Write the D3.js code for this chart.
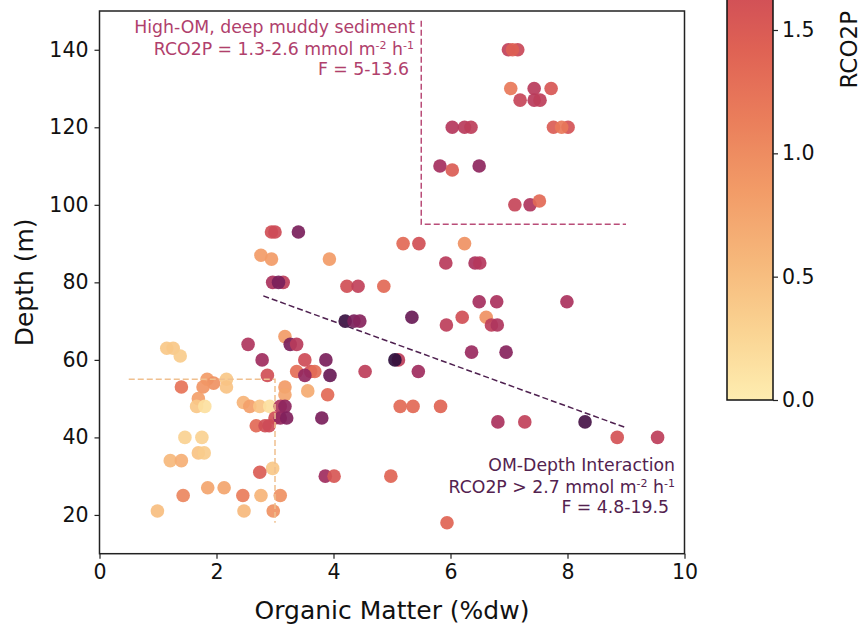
<!DOCTYPE html>
<html>
<head>
<meta charset="utf-8">
<script src="https://cdn.jsdelivr.net/npm/d3@7"></script>
<style>
  html, body { margin: 0; padding: 0; background: #ffffff; }
  svg { display: block; font-family: "DejaVu Sans", sans-serif; }
</style>
</head>
<body>
<svg id="chart" width="863" height="631"></svg>
<script>
// Sediment samples: organic matter (%dw), depth (m) and CO2 production rate
const organicMatter = [
  6.99, 7.15, 7.06,
  7.03, 7.43, 7.72,
  7.19, 7.43, 7.53,
  6.03, 6.24, 6.35, 7.76, 8.01, 7.90,
  5.82, 6.49, 6.03,
  7.10, 7.36, 7.52,
  2.94, 3.00, 3.40,
  2.76, 2.94, 3.93,
  5.19, 5.46, 6.24,
  5.92, 6.42, 6.50,
  2.96, 3.14, 3.06,
  4.23, 4.42, 4.86,
  6.49, 6.79, 7.99,
  5.34, 6.20, 6.61,
  4.20, 4.35, 4.45,
  5.93, 6.70, 6.80,
  3.17,
  2.54, 3.26, 3.37,
  1.15, 1.26, 1.38,
  6.36, 6.95,
  2.78, 3.51, 3.87, 5.11, 5.05,
  3.37, 3.61, 3.68, 4.54, 5.45,
  2.87, 3.51, 3.94,
  1.84, 2.17,
  1.95,
  1.40, 1.77, 2.17, 3.17,
  3.56,
  3.17, 3.90,
  1.69,
  2.46,
  1.66, 1.80, 2.57, 2.74, 2.91, 3.09, 3.17, 5.14, 5.36, 5.83,
  3.00, 3.09, 3.20, 3.80,
  6.81, 7.27, 8.30,
  2.68, 2.83, 2.90,
  1.46, 1.75, 8.85, 9.54,
  1.69, 1.79,
  1.21, 1.40,
  2.96,
  2.74,
  3.86, 4.01, 4.98,
  1.85, 2.13,
  1.43, 2.45, 2.76, 3.09,
  0.99, 2.47, 2.97,
  5.94
];
const depth = [
  140, 140, 140,
  130, 130, 130,
  127, 127, 127,
  120, 120, 120, 120, 120, 120,
  110, 110, 109,
  100, 100, 101,
  93, 93, 93,
  87, 86, 86,
  90, 90, 90,
  85, 85, 85,
  80, 80, 80,
  79, 79, 79,
  75, 75, 75,
  71, 71, 71,
  70, 70, 70,
  69, 69, 69,
  66,
  64, 64, 64,
  63, 63, 61,
  62, 62,
  60, 60, 60, 60, 60,
  57, 57, 57, 57, 57,
  56, 56, 56,
  55, 55,
  54,
  53, 53, 53, 53,
  52,
  51, 51,
  50,
  49,
  48, 48, 48, 48, 48, 48, 48, 48, 48, 48,
  45, 45, 45, 45,
  44, 44, 44,
  43, 43, 43,
  40, 40, 40, 40,
  36, 36,
  34, 34,
  32,
  31,
  30, 30, 30,
  27, 27,
  25, 25, 25, 25,
  21, 21, 21,
  18
];
const rco2p = [
  1.85, 1.75, 1.45,
  1.20, 1.95, 1.55,
  1.80, 1.95, 1.90,
  2.00, 1.95, 1.90, 1.50, 1.60, 1.20,
  2.15, 2.35, 1.50,
  1.80, 2.05, 1.35,
  1.65, 1.70, 2.50,
  0.85, 0.85, 0.85,
  1.35, 1.65, 0.95,
  1.95, 2.10, 2.00,
  2.10, 1.90, 2.50,
  1.65, 1.85, 1.35,
  2.15, 2.10, 2.10,
  2.60, 1.65, 0.95,
  2.80, 2.50, 2.40,
  1.90, 1.90, 2.05,
  0.85,
  2.05, 2.50, 1.95,
  0.40, 0.40, 0.35,
  2.25, 2.40,
  2.20, 1.70, 2.50, 1.90, 2.85,
  1.30, 1.60, 1.30, 1.90, 2.20,
  1.65, 2.30, 2.60,
  0.85, 0.40,
  0.95,
  1.25, 0.90, 0.45, 0.85,
  0.70,
  0.75, 1.35,
  0.80,
  0.60,
  0.40, 0.15, 0.80, 0.45, 0.15, 2.05, 2.35, 1.35, 1.35, 1.40,
  1.65, 2.30, 2.45, 2.50,
  2.10, 1.85, 2.75,
  1.35, 1.65, 1.70,
  0.30, 0.30, 1.60, 1.90,
  0.45, 0.35,
  0.55, 0.65,
  0.40,
  1.50,
  2.20, 1.55, 1.40,
  0.75, 0.75,
  1.05, 1.15, 0.60, 0.95,
  0.50, 0.55, 0.95,
  1.40
];

const xTicks = [0, 2, 4, 6, 8, 10];
const yTicks = [20, 40, 60, 80, 100, 120, 140];
const cbarTicks = [0.0, 0.5, 1.0, 1.5];

// Colour ramp (pale yellow -> orange -> red -> magenta -> dark purple)
const rampStops = [0, 0.1, 0.2, 0.3, 0.4, 0.5, 0.6, 0.7, 0.8, 0.9, 1.0];
const rampColors = ["#feedb0", "#fad392", "#f6b77a", "#f29b67", "#ea7e5b", "#df6254",
                    "#cd4b57", "#b6385c", "#98295f", "#731d5a", "#2f0f3d"];
const ramp = d3.scaleLinear().domain(rampStops).range(rampColors).interpolate(d3.interpolateRgb);
const colorMax = 2.84;
const color = v => ramp(Math.max(0, Math.min(1, v / colorMax)));

const svg = d3.select("#chart");
svg.append("rect").attr("width", 863).attr("height", 631).attr("fill", "#ffffff");

const plot = { left: 99.5, right: 684.5, top: 11, bottom: 553.7 };
const x = d3.scaleLinear().domain([0, 10]).range([plot.left, plot.right]);
const y = d3.scaleLinear().domain([10, 150]).range([plot.bottom, plot.top]);

const tickFont = 20.5;
const labelFont = 25;

// Axes
const xAxis = d3.axisBottom(x).tickValues(xTicks).tickFormat(d3.format("d")).tickSize(5).tickPadding(6);
const yAxis = d3.axisLeft(y).tickValues(yTicks).tickFormat(d3.format("d")).tickSize(5).tickPadding(6);

const gx = svg.append("g").attr("transform", `translate(0,${plot.bottom})`).call(xAxis);
const gy = svg.append("g").attr("transform", `translate(${plot.left},0)`).call(yAxis);
[gx, gy].forEach(g => {
  g.select(".domain").remove();
  g.selectAll(".tick line").attr("stroke", "#222").attr("stroke-width", 1.2);
  g.selectAll(".tick text").attr("fill", "#111").style("font-size", tickFont + "px")
    .style("font-family", "DejaVu Sans, sans-serif");
});

// Points
const data = organicMatter.map((om, i) => ({ om, depth: depth[i], r: rco2p[i] }));
svg.append("g").selectAll("circle").data(data).join("circle")
  .attr("cx", d => x(d.om))
  .attr("cy", d => y(d.depth))
  .attr("r", 6.8)
  .attr("fill", d => color(d.r))
  .attr("fill-opacity", 0.92);

// Reference lines
const line = d3.line().x(d => x(d[0])).y(d => y(d[1]));
const guides = [
  { pts: [[5.5, 147.5], [5.5, 95], [9.0, 95]], stroke: "#b94d78" },
  { pts: [[0.5, 55], [3.0, 55], [3.0, 18]], stroke: "#f0c08f" },
  { pts: [[2.8, 76.5], [9.0, 42.5]], stroke: "#4f2150" }
];
svg.append("g").selectAll("path").data(guides).join("path")
  .attr("d", d => line(d.pts))
  .attr("fill", "none")
  .attr("stroke", d => d.stroke)
  .attr("stroke-width", 1.5)
  .attr("stroke-dasharray", "6,3");

// Frame
svg.append("rect")
  .attr("x", plot.left).attr("y", plot.top)
  .attr("width", plot.right - plot.left).attr("height", plot.bottom - plot.top)
  .attr("fill", "none").attr("stroke", "#222").attr("stroke-width", 1.5);

// Annotations
function annotate(lines, color) {
  const g = svg.append("g").attr("fill", color).style("font-size", "17.3px");
  lines.forEach(l => {
    const t = g.append("text").attr("x", l.x).attr("y", l.y).attr("text-anchor", "end");
    l.parts.forEach(p => {
      const ts = t.append("tspan").text(p.t);
      if (p.sup) ts.attr("baseline-shift", "super").style("font-size", "11px");
    });
  });
}
annotate([
  { x: 415, y: 32.5, parts: [{ t: "High-OM, deep muddy sediment" }] },
  { x: 414, y: 54.5, parts: [{ t: "RCO2P = 1.3-2.6 mmol m" }, { t: "-2", sup: true }, { t: " h" }, { t: "-1", sup: true }] },
  { x: 409, y: 75, parts: [{ t: "F = 5-13.6" }] }
], "#b0406c");
annotate([
  { x: 675, y: 471, parts: [{ t: "OM-Depth Interaction" }] },
  { x: 675, y: 492.5, parts: [{ t: "RCO2P > 2.7 mmol m" }, { t: "-2", sup: true }, { t: " h" }, { t: "-1", sup: true }] },
  { x: 669, y: 513, parts: [{ t: "F = 4.8-19.5" }] }
], "#53224f");

// Axis titles
svg.append("text").attr("x", (plot.left + plot.right) / 2).attr("y", 619)
  .attr("text-anchor", "middle").style("font-size", labelFont + "px").attr("fill", "#111")
  .text("Organic Matter (%dw)");
svg.append("text").attr("transform", `translate(33,${(plot.top + plot.bottom) / 2}) rotate(-90)`)
  .attr("text-anchor", "middle").style("font-size", labelFont + "px").attr("fill", "#111")
  .text("Depth (m)");

// Colour bar
const cb = { left: 727, width: 46, bottom: 400 };
const cy = d3.scaleLinear().domain([0, 1.5]).range([cb.bottom, 30]);
const cbTop = cy(colorMax);
const defs = svg.append("defs");
const grad = defs.append("linearGradient").attr("id", "cbarGrad")
  .attr("x1", 0).attr("y1", 1).attr("x2", 0).attr("y2", 0);
d3.range(0, 1.0001, 0.05).forEach(f => {
  grad.append("stop").attr("offset", f).attr("stop-color", ramp(f));
});
svg.append("rect").attr("x", cb.left).attr("y", cbTop)
  .attr("width", cb.width).attr("height", cb.bottom - cbTop)
  .attr("fill", "url(#cbarGrad)").attr("stroke", "#111").attr("stroke-width", 1.5);
const cAxis = d3.axisRight(cy).tickValues(cbarTicks).tickFormat(d3.format(".1f")).tickSize(5).tickPadding(4);
const gc = svg.append("g").attr("transform", `translate(${cb.left + cb.width},0)`).call(cAxis);
gc.select(".domain").remove();
gc.selectAll(".tick line").attr("stroke", "#222").attr("stroke-width", 1.2);
gc.selectAll(".tick text").attr("fill", "#111").style("font-size", tickFont + "px")
  .style("font-family", "DejaVu Sans, sans-serif");
svg.append("text")
  .attr("transform", `translate(857,${(cbTop + cb.bottom) / 2}) rotate(-90)`)
  .attr("text-anchor", "middle").style("font-size", "23px").attr("fill", "#111")
  .text("RCO2P");
</script>
</body>
</html>
